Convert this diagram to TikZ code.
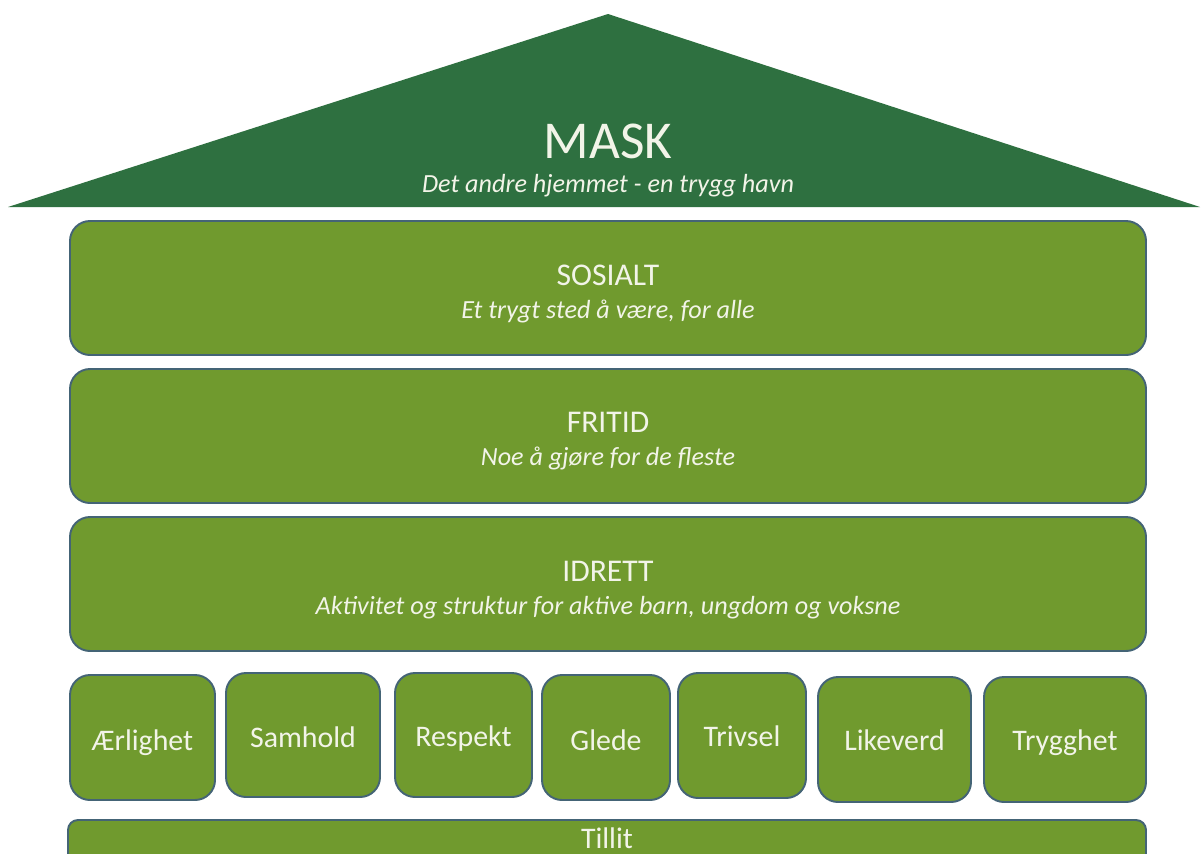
\documentclass[tikz,border=0pt]{standalone}
\usepackage{fontspec}
\setmainfont{Carlito}
\definecolor{roofgreen}{RGB}{46,112,64}
\definecolor{boxgreen}{RGB}{112,154,46}
\definecolor{boxedge}{RGB}{68,100,118}
\definecolor{paletext}{RGB}{242,244,232}
\tikzset{
	box/.style={fill=boxgreen, draw=boxedge, line width=1.1pt, rounded corners=0.4cm},
	title/.style={anchor=base, text=paletext, font=\fontsize{18}{20}\selectfont},
	subtitle/.style={anchor=base, text=paletext, font=\fontsize{14.9}{17}\selectfont\itshape},
	value/.style={anchor=base, text=paletext, font=\fontsize{17}{20}\selectfont}
}
\begin{document}
\begin{tikzpicture}[x=0.02cm, y=-0.02cm]
	\clip (0, 0) rectangle (1202, 853);
	\fill[white] (0, 0) rectangle (1202, 853);

	% roof
	\coordinate (top) at (608, 14);
	\coordinate (eaveL) at (8, 207);
	\coordinate (eaveR) at (1200, 207);
	\fill[roofgreen] (top) -- (eaveR) -- (eaveL) -- cycle;
	\node[anchor=base, text=paletext, font=\fontsize{30.3}{32}\selectfont] (mask) at (608, 158) {MASK};
	\node[subtitle] (maskSub) at (608, 192) {Det andre hjemmet - en trygg havn};

	% the three floors
	\draw[box] (70, 221) rectangle (1146, 355);
	\node[title] (sosialt) at (608, 285) {SOSIALT};
	\node[subtitle] (sosialtSub) at (608, 318) {Et trygt sted å være, for alle};

	\draw[box] (70, 369) rectangle (1146, 503);
	\node[title] (fritid) at (608, 432) {FRITID};
	\node[subtitle] (fritidSub) at (608, 465) {Noe å gjøre for de fleste};

	\draw[box] (70, 517) rectangle (1146, 651);
	\node[title] (idrett) at (608, 581) {IDRETT};
	\node[subtitle] (idrettSub) at (608, 614) {Aktivitet og struktur for aktive barn, ungdom og voksne};

	% values
	\foreach \xa/\ya/\xb/\yb/\yt/\name/\word in {
		70/675/215/800/750/aerlighet/Ærlighet,
		226/673/380/797/747/samhold/Samhold,
		395/673/532/797/746/respekt/Respekt,
		542/675/670/800/750/glede/Glede,
		678/673/806/798/746/trivsel/Trivsel,
		818/677/971/802/750/likeverd/Likeverd,
		984/677/1146/802/750/trygghet/Trygghet}
	{
		\draw[box] (\xa, \ya) rectangle (\xb, \yb);
		\node[value] (\name) at ({(\xa+\xb)/2}, \yt) {\word};
	}

	% foundation
	\draw[box, rounded corners=0.2cm] (68, 820) rectangle (1146, 900);
	\node[value] (tillit) at (607, 848) {Tillit};
\end{tikzpicture}
\end{document}
